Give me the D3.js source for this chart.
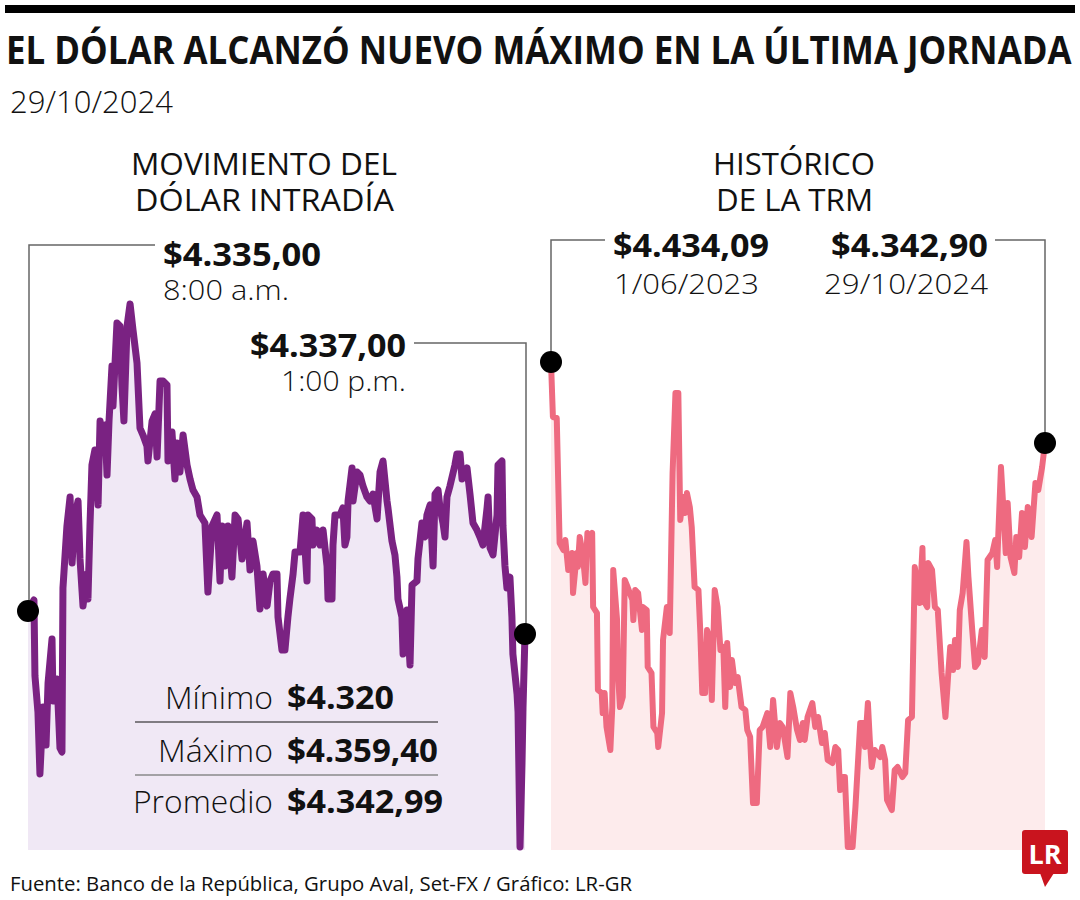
<!DOCTYPE html>
<html>
<head>
<meta charset="utf-8">
<script src="https://cdn.jsdelivr.net/npm/d3@7"></script>
<style>
  html, body { margin: 0; padding: 0; background: #ffffff; }
  svg { display: block; }
  text { font-family: "Open Sans", "Noto Sans", sans-serif; fill: #111; }
</style>
</head>
<body>
<svg id="chart" width="1080" height="900"></svg>
<script>
// ---------------- DATA ----------------
// Intraday dollar (minutes after 8:00 a.m.) and price
const intradayMinutes = [0,3.6,4.2,6.0,7.2,9.1,10.9,12.1,14.5,15.1,17.5,19.3,20.5,21.1,23.5,25.4,26.6,28.4,30.2,31.4,33.2,35.6,36.2,37.4,38.6,40.4,42.3,43.5,45.3,46.5,47.7,48.9,50.7,51.3,53.7,55.5,56.7,57.9,59.8,61.6,63.4,65.8,67.6,69.4,71.8,72.4,74.9,76.7,77.9,79.7,81.5,83.9,84.5,86.9,88.7,89.9,91.7,93.6,96.0,97.8,99.6,102.0,103.8,106.8,108.6,111.1,114.1,115.9,117.1,118.9,120.7,123.1,125.0,126.8,129.2,132.2,134.0,135.8,138.2,140.0,141.9,144.3,146.1,147.9,150.3,150.9,153.3,155.1,156.9,158.1,160.0,161.2,164.2,166.0,168.4,169.0,171.4,172.0,174.4,176.3,178.1,180.5,181.1,183.5,184.1,185.3,188.3,190.1,191.3,192.5,193.2,195.6,196.2,198.6,200.4,202.2,204.6,206.4,208.2,210.7,212.5,214.3,216.7,217.3,219.7,221.5,222.7,223.3,225.7,226.4,228.8,230.6,231.8,234.8,235.4,237.8,239.6,240.8,242.7,244.5,245.7,247.5,248.7,250.5,251.7,252.9,254.7,257.7,258.9,260.8,262.0,265.0,266.8,268.6,271.0,272.8,274.6,277.1,277.7,278.9,280.7,283.1,283.7,286.1,286.7,287.9,289.1,290.9,292.1,292.7,295.2,295.8,297.0,298.2,298.8,300.0];
const intradayValues = [4337.12,4337.92,4332.41,4329.80,4325.30,4330.16,4327.40,4331.90,4335.09,4330.59,4332.19,4327.18,4326.89,4338.79,4343.29,4345.40,4340.61,4344.09,4345.11,4340.90,4337.49,4339.81,4338.00,4343.29,4347.72,4348.81,4344.82,4350.91,4349.31,4350.62,4346.99,4350.91,4354.90,4352.00,4358.02,4357.80,4353.52,4350.91,4357.80,4359.40,4357.51,4355.12,4350.40,4349.89,4349.10,4348.01,4350.91,4351.42,4348.30,4353.81,4353.81,4353.52,4348.01,4350.11,4346.70,4349.31,4347.21,4349.89,4347.72,4346.70,4345.90,4345.40,4344.09,4343.51,4338.50,4343.29,4344.09,4339.30,4343.29,4340.39,4343.29,4339.59,4344.09,4343.80,4340.90,4343.51,4340.10,4342.20,4340.39,4337.27,4339.81,4337.49,4339.30,4339.81,4339.81,4336.69,4334.29,4334.29,4336.69,4338.00,4339.81,4341.41,4341.41,4344.09,4339.30,4344.09,4343.80,4341.91,4343.00,4341.91,4343.00,4340.39,4338.00,4338.00,4341.91,4344.09,4344.09,4344.60,4341.91,4342.49,4345.11,4347.50,4345.11,4347.21,4346.99,4346.19,4345.40,4345.11,4345.61,4343.80,4347.21,4348.01,4345.11,4344.60,4342.20,4341.19,4339.59,4338.00,4336.69,4334.00,4337.20,4333.21,4339.01,4339.30,4340.90,4343.51,4342.49,4344.09,4344.82,4340.39,4345.61,4345.90,4344.60,4343.51,4342.49,4345.40,4346.19,4347.72,4348.52,4348.52,4346.70,4347.50,4345.61,4343.51,4343.00,4342.49,4341.91,4344.60,4345.40,4341.70,4341.19,4344.09,4347.72,4348.01,4343.29,4340.39,4338.79,4339.59,4336.69,4334.00,4331.10,4329.80,4320.00,4326.10,4330.09,4335.46];

// TRM history (days after 1/06/2023) and value
const trmStart = "2023-06-01";
const trmEnd = "2024-10-29";
const trmDayOffsets = [0,2,6,9,13,15,18,22,23,27,28,30,33,36,38,41,43,44,48,49,53,54,56,58,62,64,65,69,70,72,75,77,80,85,86,88,91,95,96,100,101,105,107,111,112,116,117,121,124,127,130,133,135,138,140,142,145,147,150,154,156,158,161,163,166,168,171,174,177,180,182,184,187,189,192,195,199,203,205,208,211,215,218,221,226,229,232,236,239,242,247,250,253,257,260,263,265,268,273,276,279,283,286,289,294,297,300,302,305,307,310,315,318,320,323,326,328,331,333,335,338,344,346,349,351,356,359,362,367,370,373,377,380,383,385,388,389,393,394,398,401,404,408,412,415,417,420,422,425,427,430,434,436,440,443,446,450,453,456,461,464,466,467,470,472,475,477,480,484,486,489,492,495,498,502,506,509,513,516];
const trmValues = [4434.09,4372.17,4371.05,4230.32,4222.44,4233.70,4199.92,4219.06,4174.03,4219.06,4203.30,4237.07,4219.06,4185.29,4241.58,4237.07,4241.58,4158.27,4151.51,4064.83,4061.45,4038.93,4061.45,4023.17,3997.28,4045.69,4199.92,4143.63,4083.97,4045.69,4056.95,4188.67,4180.78,4166.15,4143.63,4177.41,4174.03,4132.38,4158.27,4154.89,4090.72,4083.97,4023.17,4016.42,4000.66,4038.93,4121.12,4158.27,4129.00,4309.13,4399.19,4399.19,4256.21,4282.11,4264.09,4286.61,4270.85,4248.33,4180.78,4177.41,4129.00,4061.45,4061.45,4132.38,4121.12,4053.57,4177.41,4158.27,4109.86,4113.24,4045.69,4117.74,4068.20,4098.60,4072.71,4079.46,4045.69,4042.31,4019.80,4011.91,3937.61,3937.61,4019.80,4023.17,4038.93,4000.66,4053.57,4000.66,4027.68,4023.17,3989.40,4061.45,4045.69,4019.80,4008.54,4027.68,4008.54,4034.43,4050.19,4023.17,4034.43,4005.16,4016.42,3986.02,3982.64,4000.66,3997.28,3952.25,3966.88,3966.88,3888.08,3888.08,3933.11,3971.39,4027.68,4027.68,4000.66,4050.19,4008.54,3978.14,3997.28,3989.40,4000.66,3986.02,3940.99,3929.73,3974.76,3978.14,3966.88,3971.39,4031.05,4034.43,4203.30,4177.41,4162.77,4224.69,4166.15,4158.27,4207.80,4199.92,4158.27,4154.89,4083.97,4034.43,4083.97,4113.24,4087.34,4121.12,4090.72,4154.89,4174.03,4231.45,4192.04,4132.38,4090.72,4095.22,4132.38,4101.98,4211.18,4219.06,4233.70,4203.30,4233.70,4315.88,4278.73,4219.06,4275.35,4214.56,4196.55,4237.07,4214.56,4264.09,4225.82,4270.85,4237.07,4297.87,4289.99,4315.88,4342.90];

// Texts
const titleText = "EL DÓLAR ALCANZÓ NUEVO MÁXIMO EN LA ÚLTIMA JORNADA";
const dateText = "29/10/2024";
const leftHeader = ["MOVIMIENTO DEL", "DÓLAR INTRADÍA"];
const rightHeader = ["HISTÓRICO", "DE LA TRM"];
const intradayStartLabel = ["$4.335,00", "8:00 a.m."];
const intradayEndLabel = ["$4.337,00", "1:00 p.m."];
const trmStartLabel = ["$4.434,09", "1/06/2023"];
const trmEndLabel = ["$4.342,90", "29/10/2024"];
const statLabels = ["Mínimo", "Máximo", "Promedio"];
const statValues = ["$4.320", "$4.359,40", "$4.342,99"];
const sourceText = "Fuente: Banco de la República, Grupo Aval, Set-FX / Gráfico: LR-GR";

// ---------------- DRAW ----------------
const svg = d3.select("#chart");
svg.append("rect").attr("width", 1080).attr("height", 900).attr("fill", "#fff");

// top rule
svg.append("rect").attr("x", 5).attr("y", 5).attr("width", 1070).attr("height", 8).attr("fill", "#000");

function txt(str, x, y, size, weight, len, anchor) {
  const t = svg.append("text").attr("x", x).attr("y", y)
    .attr("font-size", size).attr("font-weight", weight)
    .attr("text-anchor", anchor || "start").text(str);
  if (len) t.attr("textLength", len).attr("lengthAdjust", "spacingAndGlyphs");
  return t;
}

// title: condensed by a horizontal scale so it spans the full width
const title = svg.append("text").attr("x", 0).attr("y", 0)
  .attr("font-size", 40).attr("font-weight", 700).text(titleText);
const natural = title.node().getComputedTextLength();
title.attr("transform", `translate(6,64) scale(${1066 / natural},1)`);

txt(dateText, 10, 113, 31, 300, 163);

txt(leftHeader[0], 131, 175, 31, 400, 266);
txt(leftHeader[1], 135, 211, 31, 400, 259);
txt(rightHeader[0], 713, 175, 31, 400, 162);
txt(rightHeader[1], 716, 211, 31, 400, 157);

const plotBottom = 850;

// ---- Left: intraday ----
const xL = d3.scaleLinear().domain([0, 300]).range([28, 525]);
const yL = d3.scaleLinear().domain([4320, 4359.4]).range([847, 304]);
const intraday = intradayMinutes.map((m, i) => ({ m, v: intradayValues[i] }));

svg.append("path").datum(intraday)
  .attr("fill", "#f0e8f5")
  .attr("d", d3.area().x(d => xL(d.m)).y0(plotBottom).y1(d => yL(d.v)));

// ---- Right: TRM ----
const t0 = new Date(trmStart + "T00:00:00Z");
const t1 = new Date(trmEnd + "T00:00:00Z");
const xR = d3.scaleUtc().domain([t0, t1]).range([551, 1045]);
const yR = d3.scaleLinear().domain([4342.90, 4434.09]).range([443, 362]);
const trm = trmDayOffsets.map((d, i) => ({ date: d3.utcDay.offset(t0, d), v: trmValues[i] }));

svg.append("path").datum(trm)
  .attr("fill", "#fdebec")
  .attr("d", d3.area().x(d => xR(d.date)).y0(plotBottom).y1(d => yR(d.v)));

// stats table (over the left fill)
const statY = [709, 762, 813];
statLabels.forEach((s, i) => {
  const w = [108, 115, 140][i];
  txt(s, 273, statY[i], 32, 300, w, "end");
});
statValues.forEach((s, i) => {
  const w = [107, 151, 156][i];
  txt(s, 287, statY[i], 32, 700, w);
});
svg.append("line").attr("x1", 135).attr("x2", 438).attr("y1", 722).attr("y2", 722)
  .attr("stroke", "#111").attr("stroke-width", 1.2);
svg.append("line").attr("x1", 135).attr("x2", 438).attr("y1", 775).attr("y2", 775)
  .attr("stroke", "#8a8a8a").attr("stroke-width", 1.5);

// lines
svg.append("path").datum(intraday)
  .attr("fill", "none").attr("stroke", "#7a2282").attr("stroke-width", 7)
  .attr("stroke-linejoin", "round").attr("stroke-linecap", "round")
  .attr("d", d3.line().x(d => xL(d.m)).y(d => yL(d.v)));

svg.append("path").datum(trm)
  .attr("fill", "none").attr("stroke", "#ee6a80").attr("stroke-width", 6)
  .attr("stroke-linejoin", "round").attr("stroke-linecap", "round")
  .attr("d", d3.line().x(d => xR(d.date)).y(d => yR(d.v)));

// annotation leaders
const leaderColor = "#666";
function leader(points) {
  svg.append("path").attr("d", d3.line()(points))
    .attr("fill", "none").attr("stroke", leaderColor).attr("stroke-width", 1.5);
}
const li0 = intraday[0], li1 = intraday[intraday.length - 1];
const tr0 = trm[0], tr1 = trm[trm.length - 1];

leader([[xL(li0.m) + 1, yL(li0.v)], [xL(li0.m) + 1, 245], [155, 245]]);
leader([[414, 343], [xL(li1.m) + 1, 343], [xL(li1.m) + 1, yL(li1.v)]]);
leader([[xR(tr0.date), yR(tr0.v)], [xR(tr0.date), 240], [605, 240]]);
leader([[995, 240], [xR(tr1.date), 240], [xR(tr1.date), yR(tr1.v)]]);

// dots
[[xL(li0.m), yL(li0.v)], [xL(li1.m), yL(li1.v)], [xR(tr0.date), yR(tr0.v)], [xR(tr1.date), yR(tr1.v)]]
  .forEach(p => svg.append("circle").attr("cx", p[0]).attr("cy", p[1]).attr("r", 11).attr("fill", "#000"));

// annotation texts
txt(intradayStartLabel[0], 163, 266, 32, 700, 158);
txt(intradayStartLabel[1], 163, 300, 27, 300, 126);
txt(intradayEndLabel[0], 406, 357, 32, 700, 156, "end");
txt(intradayEndLabel[1], 406, 391, 27, 300, 125, "end");
txt(trmStartLabel[0], 613, 257, 32, 700, 156);
txt(trmStartLabel[1], 614, 294, 28, 300, 145);
txt(trmEndLabel[0], 988, 257, 32, 700, 157, "end");
txt(trmEndLabel[1], 988, 294, 28, 300, 164, "end");

// source
txt(sourceText, 10, 891, 20, 400, 622);

// LR logo
const logo = svg.append("g");
logo.append("rect").attr("x", 1022).attr("y", 830).attr("width", 46).attr("height", 44).attr("rx", 3).attr("fill", "#c9141e");
logo.append("path").attr("d", "M1040,873 L1054,873 L1045,887 Z").attr("fill", "#c9141e");
logo.append("text").attr("x", 1045).attr("y", 864).attr("text-anchor", "middle")
  .attr("font-family", "'Liberation Serif', 'DejaVu Serif', serif").attr("font-weight", 700)
  .attr("font-size", 27).style("fill", "#fff").text("LR");
</script>
</body>
</html>
